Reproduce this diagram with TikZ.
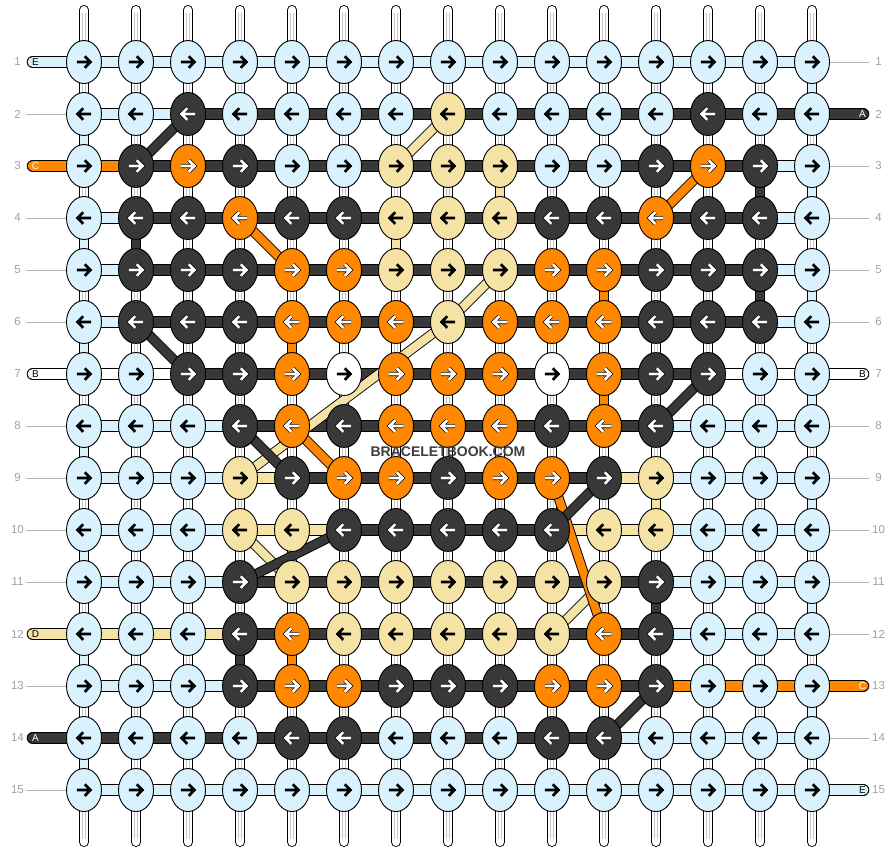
\documentclass[tikz,border=0pt]{standalone}
\usepackage{fontspec}
\setmainfont{Liberation Sans}
\usetikzlibrary{shapes.geometric}
\pgfdeclarelayer{bg}
\pgfsetlayers{bg,main}
\definecolor{cL}{HTML}{D9F2FD}
\definecolor{cD}{HTML}{383838}
\definecolor{cO}{HTML}{FF8800}
\definecolor{cY}{HTML}{F5E3A6}
\definecolor{cW}{HTML}{FFFFFF}
\colorlet{aL}{black}\colorlet{aY}{black}\colorlet{aW}{black}\colorlet{aD}{white}\colorlet{aO}{white}
\colorlet{oL}{cL}\colorlet{oY}{cY}\colorlet{oW}{cW}\colorlet{oD}{black}\colorlet{oO}{black}
\definecolor{labgray}{HTML}{A0A0A0}
\definecolor{linegray}{HTML}{B4B4B4}
\definecolor{warpgray}{HTML}{C4C4C4}
\tikzset{
 knot/.style={ellipse, draw=black, line width=0.9pt, minimum width=35pt, minimum height=43pt, inner sep=0pt},
 segout/.style={line width=12pt, draw=black},
 segin/.style={line width=10.2pt},
 vout/.style={line width=10pt, draw=black},
 vin/.style={line width=8.2pt},
 dout/.style={line width=10pt, draw=black},
 din/.style={line width=8.2pt},
 arrowline/.style={line width=2.7pt, line join=miter},
 numlab/.style={font=\fontsize{11.5}{12}\selectfont, text=labgray, inner sep=0pt},
 endlab/.style={font=\fontsize{10}{10}\selectfont, inner sep=0pt},
 glines/.style={draw=linegray, line width=0.9pt},
 warpstripe/.style={draw=warpgray, line width=0.8pt},
}
\newcommand\warpline[2]{%
  \draw[vout] (#1) -- (#2);
  \draw[vin, draw=white] (#1) -- (#2);
  \draw[warpstripe] ([xshift=-1.7pt]#1) -- ([xshift=-1.7pt]#2);
  \draw[warpstripe] ([xshift=1.7pt]#1) -- ([xshift=1.7pt]#2);}
\foreach \rr/\cc/\col in {2/1/L,4/1/L,6/1/L,8/1/L,10/1/L,12/1/L,14/1/L,
  1/15/L,3/15/L,5/15/L,7/15/L,9/15/L,11/15/L,13/15/L,
  3/14/D,4/2/D,5/14/D,5/11/O,6/5/O,7/11/O,3/9/Y,4/7/Y,9/12/Y,11/12/D,12/4/D,12/5/O}{%
  \expandafter\xdef\csname vc-\rr-\cc\endcsname{\col}}
\begin{document}
\begin{tikzpicture}[x=1pt,y=-1pt]
\useasboundingbox (0,0) rectangle (896,852);
% knots
\foreach \rr/\row in {
 1/{L,L,L,L,L,L,L,L,L,L,L,L,L,L,L},
 2/{L,L,D,L,L,L,L,Y,L,L,L,L,D,L,L},
 3/{L,D,O,D,L,L,Y,Y,Y,L,L,D,O,D,L},
 4/{L,D,D,O,D,D,Y,Y,Y,D,D,O,D,D,L},
 5/{L,D,D,D,O,O,Y,Y,Y,O,O,D,D,D,L},
 6/{L,D,D,D,O,O,O,Y,O,O,O,D,D,D,L},
 7/{L,L,D,D,O,W,O,O,O,W,O,D,D,L,L},
 8/{L,L,L,D,O,D,O,O,O,D,O,D,L,L,L},
 9/{L,L,L,Y,D,O,O,D,O,O,D,Y,L,L,L},
 10/{L,L,L,Y,Y,D,D,D,D,D,Y,Y,L,L,L},
 11/{L,L,L,D,Y,Y,Y,Y,Y,Y,Y,D,L,L,L},
 12/{L,L,L,D,O,Y,Y,Y,Y,Y,O,D,L,L,L},
 13/{L,L,L,D,O,O,D,D,D,O,O,D,L,L,L},
 14/{L,L,L,L,D,D,L,L,L,D,D,L,L,L,L},
 15/{L,L,L,L,L,L,L,L,L,L,L,L,L,L,L}}{
  \foreach \col [count=\cc] in \row {
    \pgfmathsetmacro\xx{32+52*\cc}
    \pgfmathsetmacro\yy{10+52*\rr}
    \node[knot, fill=c\col] (n-\rr-\cc) at (\xx,\yy) {};
    \ifodd\rr \def\sg{1}\else \def\sg{-1}\fi
    \pgfmathsetmacro\xa{\xx-7.2*(\sg)}
    \pgfmathsetmacro\xb{\xx+6.5*(\sg)}
    \pgfmathsetmacro\xh{\xx+0.8*(\sg)}
    \pgfmathsetmacro\ya{\yy-5.8}
    \pgfmathsetmacro\yb{\yy+5.8}
    \draw[arrowline, line width=4pt, draw=o\col] (\xa,\yy) -- (\xb,\yy) (\xh,\ya) -- (\xb,\yy) -- (\xh,\yb);
    \draw[arrowline, draw=a\col] (\xa,\yy) -- (\xb,\yy) (\xh,\ya) -- (\xb,\yy) -- (\xh,\yb);
  }
}
% row numbers
\foreach \rr in {1,...,15}{
  \pgfmathsetmacro\yy{10+52*\rr}
  \node[numlab] (ln-\rr) at (17.5,\yy) {\rr};
  \node[numlab] (rn-\rr) at (878.5,\yy) {\rr};
}
\node[font=\bfseries\fontsize{14}{14}\selectfont, text=black!76, inner sep=0pt] (wm) at (448,451.5) {BRACELETBOOK.COM};
\begin{pgfonlayer}{bg}
% vertical strings
\foreach \cc in {1,...,15}{
  \pgfmathsetmacro\xx{32+52*\cc}
  \coordinate (top-\cc) at (\xx,10);
  \coordinate (bot-\cc) at (\xx,842);
  \draw[vout, line cap=round] (top-\cc) -- (n-1-\cc.center);
  \draw[vin, draw=white, line cap=round] (top-\cc) -- (n-1-\cc.center);
  \draw[warpstripe] ([xshift=-1.7pt,yshift=-3pt]top-\cc) -- ([xshift=-1.7pt]n-1-\cc.center);
  \draw[warpstripe] ([xshift=1.7pt,yshift=-3pt]top-\cc) -- ([xshift=1.7pt]n-1-\cc.center);
  \draw[vout, line cap=round] (bot-\cc) -- (n-15-\cc.center);
  \draw[vin, draw=white, line cap=round] (bot-\cc) -- (n-15-\cc.center);
  \draw[warpstripe] ([xshift=-1.7pt,yshift=3pt]bot-\cc) -- ([xshift=-1.7pt]n-15-\cc.center);
  \draw[warpstripe] ([xshift=1.7pt,yshift=3pt]bot-\cc) -- ([xshift=1.7pt]n-15-\cc.center);
}
\foreach \rr in {1,...,14}{
  \pgfmathtruncatemacro\nr{\rr+1}
  \foreach \cc in {1,...,15}{
    \ifcsname vc-\rr-\cc\endcsname
      \edef\vcol{\csname vc-\rr-\cc\endcsname}
      \draw[vout] (n-\rr-\cc.center) -- (n-\nr-\cc.center);
      \draw[vin, draw=c\vcol] (n-\rr-\cc.center) -- (n-\nr-\cc.center);
    \else
      \warpline{n-\rr-\cc.center}{n-\nr-\cc.center}
    \fi
  }
}
% horizontal strings
\foreach \rr/\hrow in {
 1/{L,L,L,L,L,L,L,L,L,L,L,L,L,L},
 2/{L,L,D,D,D,D,D,D,D,D,D,D,D,D},
 3/{O,D,D,D,D,D,D,D,D,D,D,D,D,L},
 4/{L,D,D,D,D,D,D,D,D,D,D,D,D,L},
 5/{L,D,D,D,D,D,D,D,D,D,D,D,D,L},
 6/{L,D,D,D,D,D,D,D,D,D,D,D,D,L},
 7/{W,W,D,D,D,D,D,D,D,D,D,D,W,W},
 8/{L,L,L,D,D,D,D,D,D,D,D,L,L,L},
 9/{L,L,L,Y,D,D,D,D,D,D,Y,L,L,L},
 10/{L,L,L,Y,Y,D,D,D,D,Y,Y,L,L,L},
 11/{L,L,L,D,D,D,D,D,D,D,D,L,L,L},
 12/{Y,Y,Y,D,D,D,D,D,D,D,D,L,L,L},
 13/{L,L,L,D,D,D,D,D,D,D,D,O,O,O},
 14/{D,D,D,D,D,D,D,D,D,D,L,L,L,L},
 15/{L,L,L,L,L,L,L,L,L,L,L,L,L,L}}{
  \foreach \col [count=\cc] in \hrow {
    \pgfmathtruncatemacro\nc{\cc+1}
    \draw[segout] (n-\rr-\cc.center) -- (n-\rr-\nc.center);
    \draw[segin, draw=c\col] (n-\rr-\cc.center) -- (n-\rr-\nc.center);
  }
}
% string ends, left
\foreach \rr/\col/\lt/\tc in {1/L/E/black,3/O/C/white,7/W/B/black,12/Y/D/black,14/D/A/white}{
  \pgfmathsetmacro\yy{10+52*\rr}
  \coordinate (le-\rr) at (32.7,\yy);
  \draw[segout, line cap=round] (le-\rr) -- (n-\rr-1.center);
  \draw[segin, draw=c\col, line cap=round] (le-\rr) -- (n-\rr-1.center);
  \node[endlab, text=\tc] (lt-\rr) at (35.5,\yy) {\lt};
}
\foreach \rr in {2,4,5,6,8,9,10,11,13,15}{
  \pgfmathsetmacro\yy{10+52*\rr}
  \coordinate (lg-\rr) at (26,\yy);
  \draw[glines] (lg-\rr) -- (n-\rr-1.center);
}
% string ends, right
\foreach \rr/\col/\lt/\tc in {2/D/A/white,7/W/B/black,13/O/C/white,15/L/E/black}{
  \pgfmathsetmacro\yy{10+52*\rr}
  \coordinate (re-\rr) at (863.3,\yy);
  \draw[segout, line cap=round] (re-\rr) -- (n-\rr-15.center);
  \draw[segin, draw=c\col, line cap=round] (re-\rr) -- (n-\rr-15.center);
  \node[endlab, text=\tc] (rt-\rr) at (862.5,\yy) {\lt};
}
\foreach \rr in {1,3,4,5,6,8,9,10,11,12,14}{
  \pgfmathsetmacro\yy{10+52*\rr}
  \coordinate (rg-\rr) at (869,\yy);
  \draw[glines] (rg-\rr) -- (n-\rr-15.center);
}
% diagonal strings
\foreach \ra/\ca/\rb/\cb/\col in {2/8/3/7/Y,5/9/6/8/Y,6/8/9/4/Y,10/4/11/5/Y,11/11/12/10/Y,
  3/13/4/12/O,4/4/5/5/O,8/5/9/6/O,9/10/12/11/O,
  2/3/3/2/D,6/2/7/3/D,7/13/8/12/D,8/4/9/5/D,9/11/10/10/D,10/6/11/4/D,13/12/14/11/D}{
  \draw[dout] (n-\ra-\ca.center) -- (n-\rb-\cb.center);
  \draw[din, draw=c\col] (n-\ra-\ca.center) -- (n-\rb-\cb.center);
}
\end{pgfonlayer}
\end{tikzpicture}
\end{document}
